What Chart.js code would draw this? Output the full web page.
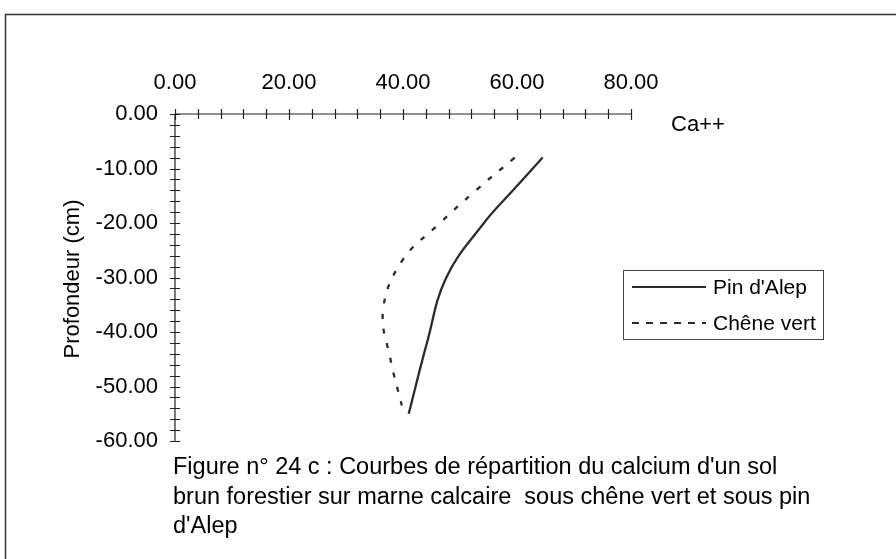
<!DOCTYPE html>
<html>
<head>
<meta charset="utf-8">
<script src="https://cdn.jsdelivr.net/npm/chart.js@4/dist/chart.umd.min.js"></script>
<style>
  html, body { margin: 0; padding: 0; background: #fff; }
  #wrap { width: 896px; height: 559px; position: relative; }
</style>
</head>
<body>
<div id="wrap"><canvas id="c" width="896" height="559"></canvas></div>
<script>
// Calcium (Ca++) profiles by depth, brown forest soil on calcareous marl
const pinDepth   = [-8, -14, -20, -30, -42, -55];
const pinCa      = [64.5, 59.3, 54.2, 47.6, 44.2, 41.0];
const cheneDepth = [-8, -14, -20, -27, -36, -45, -53.5];
const cheneCa    = [59.6, 52.8, 46.5, 39.8, 36.5, 37.8, 39.8];

const seriesNames = ["Pin d'Alep", "Chêne vert"];
const xTicks = [0, 20, 40, 60, 80];
const yTicks = [0, -10, -20, -30, -40, -50, -60];
const xTitle = 'Ca++';
const yTitle = 'Profondeur (cm)';
const caption = [
  "Figure n° 24 c : Courbes de répartition du calcium d'un sol",
  "brun forestier sur marne calcaire  sous chêne vert et sous pin",
  "d'Alep"
];

const FONT = '"Liberation Sans", Arial, Helvetica, sans-serif';
const INK = '#2b2b2b';

const toPoints = (xs, ys) => xs.map((x, i) => ({ x: x, y: ys[i] }));

const decor = {
  id: 'decor',
  afterDraw(chart) {
    const ctx = chart.ctx;
    const xs = chart.scales.x, ys = chart.scales.y;
    const x0 = xs.getPixelForValue(0), y0 = ys.getPixelForValue(0);
    ctx.save();

    // outer frame
    ctx.strokeStyle = '#333';
    ctx.lineWidth = 1.5;
    ctx.strokeRect(5.5, 14.5, 1000, 1000);

    // axes crossing at the origin
    ctx.strokeStyle = '#222';
    ctx.lineWidth = 1.2;
    ctx.beginPath();
    ctx.moveTo(x0, y0); ctx.lineTo(xs.getPixelForValue(80), y0);
    ctx.moveTo(x0, y0); ctx.lineTo(x0, ys.getPixelForValue(-60));
    ctx.stroke();

    // tick marks straddling the axes
    ctx.beginPath();
    for (let v = 0; v <= 80; v += 4) {
      const px = Math.round(xs.getPixelForValue(v)) + 0.5;
      const h = (v % 20 === 0) ? 6 : 5;
      ctx.moveTo(px, y0 - 5); ctx.lineTo(px, y0 + h);
    }
    for (let v = 0; v >= -60; v -= 2) {
      const py = Math.round(ys.getPixelForValue(v)) + 0.5;
      ctx.moveTo(x0 - 5, py); ctx.lineTo(x0 + 5, py);
    }
    ctx.stroke();

    // axis titles
    ctx.fillStyle = '#000';
    ctx.font = '22px ' + FONT;
    ctx.textBaseline = 'middle';
    ctx.textAlign = 'left';
    ctx.fillText(xTitle, 671, 125);
    ctx.save();
    ctx.translate(73, 279);
    ctx.rotate(-Math.PI / 2);
    ctx.textAlign = 'center';
    ctx.fillText(yTitle, 0, 0);
    ctx.restore();

    // legend box
    ctx.strokeStyle = '#444';
    ctx.lineWidth = 1;
    ctx.strokeRect(623.5, 270.5, 200, 69);
    ctx.font = '21px ' + FONT;
    const rows = [287, 323];
    chart.data.datasets.forEach((ds, i) => {
      ctx.strokeStyle = ds.borderColor;
      ctx.lineWidth = 2;
      ctx.setLineDash(ds.borderDash && ds.borderDash.length ? [7, 7] : []);
      ctx.beginPath();
      ctx.moveTo(632, rows[i]); ctx.lineTo(706, rows[i]);
      ctx.stroke();
      ctx.setLineDash([]);
      ctx.fillStyle = '#000';
      ctx.textAlign = 'left';
      ctx.fillText(ds.label, 713, rows[i] + 1);
    });

    // caption
    ctx.font = '23.5px ' + FONT;
    caption.forEach((line, i) => ctx.fillText(line, 173, 468 + i * 29.5));

    ctx.restore();
  }
};

new Chart(document.getElementById('c'), {
  type: 'scatter',
  data: {
    datasets: [
      {
        label: seriesNames[0],
        data: toPoints(pinCa, pinDepth),
        showLine: true,
        borderColor: INK,
        borderWidth: 2.3,
        pointRadius: 0,
        tension: 0.4
      },
      {
        label: seriesNames[1],
        data: toPoints(cheneCa, cheneDepth),
        showLine: true,
        borderColor: INK,
        borderWidth: 2.3,
        borderDash: [5, 10],
        pointRadius: 0,
        tension: 0.4
      }
    ]
  },
  options: {
    responsive: false,
    animation: false,
    layout: { padding: { left: 0, top: 0, right: 265, bottom: 118 } },
    plugins: { legend: { display: false }, tooltip: { enabled: false } },
    scales: {
      x: {
        type: 'linear',
        position: 'top',
        min: 0, max: 80,
        afterFit: s => { s.height = 114; },
        afterBuildTicks: s => { s.ticks = xTicks.map(v => ({ value: v })); },
        grid: { display: false },
        border: { display: false },
        ticks: {
          padding: 10,
          color: '#000',
          font: { family: FONT, size: 22 },
          maxRotation: 0,
          autoSkip: false,
          callback: v => Number(v).toFixed(2)
        }
      },
      y: {
        type: 'linear',
        position: 'left',
        min: -60, max: 0,
        afterFit: s => { s.width = 175; },
        afterBuildTicks: s => { s.ticks = yTicks.map(v => ({ value: v })); },
        grid: { display: false },
        border: { display: false },
        ticks: {
          padding: 9,
          color: '#000',
          font: { family: FONT, size: 22 },
          autoSkip: false,
          callback: v => Number(v).toFixed(2)
        }
      }
    }
  },
  plugins: [decor]
});
</script>
</body>
</html>
